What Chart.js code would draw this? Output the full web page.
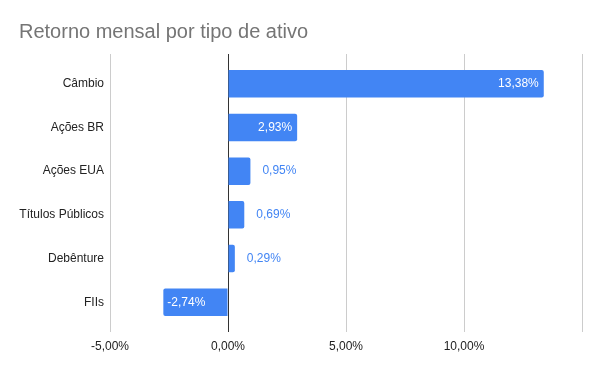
<!DOCTYPE html>
<html>
<head>
<meta charset="utf-8">
<script src="https://cdn.jsdelivr.net/npm/chart.js@4"></script>
<style>
	html, body { margin: 0; padding: 0; background: #fff; }
	#chart { width: 600px; height: 371px; }
</style>
</head>
<body>
<div id="chart"><canvas width="600" height="371"></canvas></div>
<script>
const categories = ["Câmbio", "Ações BR", "Ações EUA", "Títulos Públicos", "Debênture", "FIIs"];
const returns = [13.38, 2.93, 0.95, 0.69, 0.29, -2.74];
const xTicks = [-5, 0, 5, 10, 15];
const xTickLabels = ["-5,00%", "0,00%", "5,00%", "10,00%", ""];

const FONT = "'Liberation Sans', Arial, sans-serif";
const BLUE = "#4285f4";

const fmt = (v) => v.toFixed(2).replace(".", ",") + "%";

// white label inside the bar if it fits, blue label just outside otherwise
const barLabels = {
	id: "barLabels",
	afterDatasetsDraw(chart) {
		const ctx = chart.ctx;
		const meta = chart.getDatasetMeta(0);
		ctx.save();
		ctx.font = "12px " + FONT;
		ctx.textBaseline = "middle";
		meta.data.forEach((bar, i) => {
			const value = returns[i];
			const text = fmt(value);
			const w = ctx.measureText(text).width;
			const len = Math.abs(bar.x - bar.base);
			const neg = value < 0;
			if (w + 10 <= len) {
				ctx.fillStyle = "#ffffff";
				ctx.textAlign = neg ? "left" : "right";
				ctx.fillText(text, neg ? bar.x + 4 : bar.x - 5, bar.y);
			} else {
				ctx.fillStyle = BLUE;
				ctx.textAlign = neg ? "right" : "left";
				ctx.fillText(text, neg ? bar.x - 12 : bar.x + 12, bar.y);
			}
		});
		ctx.restore();
	},
};

const ctx = document.querySelector("#chart canvas").getContext("2d");

new Chart(ctx, {
	type: "bar",
	data: {
		datasets: [
			{
				data: returns.map((v, i) => ({ x: v, y: i })),
				backgroundColor: BLUE,
				borderRadius: 2,
				borderSkipped: "start",
				categoryPercentage: 1,
				barPercentage: 0.63,
			},
		],
	},
	options: {
		indexAxis: "y",
		responsive: false,
		animation: false,
		layout: {
			padding: { left: 19, right: 18, top: 0, bottom: 0 },
		},
		plugins: {
			legend: { display: false },
			tooltip: { enabled: false },
			title: {
				display: true,
				text: "Retorno mensal por tipo de ativo",
				align: "start",
				color: "#757575",
				font: { family: FONT, size: 20, weight: "normal" },
				padding: { top: 20, bottom: 10 },
			},
		},
		scales: {
			x: {
				type: "linear",
				min: -5,
				max: 15,
				afterBuildTicks: (scale) => {
					scale.ticks = xTicks.map((v) => ({ value: v }));
				},
				afterFit: (scale) => {
					scale.height = 39;
				},
				border: { display: false },
				grid: {
					drawTicks: false,
					color: (c) => (c.tick && c.tick.value === 0 ? "#333333" : "#cccccc"),
					lineWidth: 1,
				},
				ticks: {
					padding: 7,
					color: "#222222",
					maxRotation: 0,
					font: { family: FONT, size: 12 },
					callback: (value) => xTickLabels[xTicks.indexOf(value)],
				},
			},
			y: {
				type: "linear",
				reverse: true,
				offset: false,
				min: -0.68,
				max: categories.length - 1 + 0.68,
				afterBuildTicks: (scale) => {
					scale.ticks = categories.map((c, i) => ({ value: i }));
				},
				afterFit: (scale) => {
					scale.width = 91;
				},
				border: { display: false },
				grid: { display: false, drawTicks: false, offset: false },
				ticks: {
					padding: 6,
					color: "#222222",
					font: { family: FONT, size: 12 },
					callback: (value) => categories[value],
				},
			},
		},
	},
	plugins: [barLabels],
});
</script>
</body>
</html>
